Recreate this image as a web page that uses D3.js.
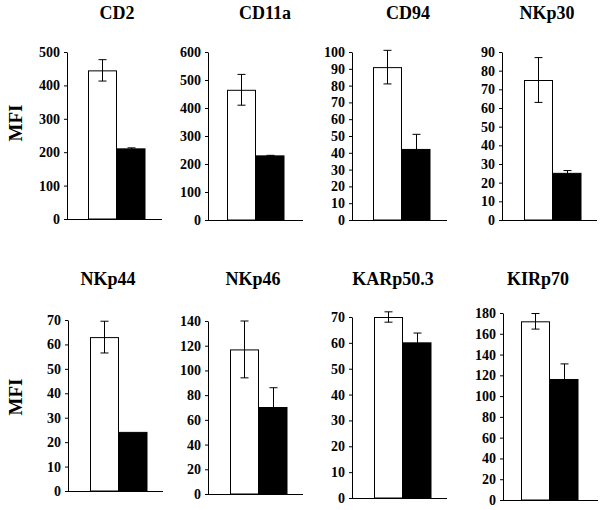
<!DOCTYPE html>
<html><head><meta charset="utf-8">
<script src="https://cdn.jsdelivr.net/npm/d3@7"></script>
<style>body{margin:0;background:#fff}svg{display:block}
text{font-family:"Liberation Serif","Times New Roman",Times,serif;font-weight:bold}</style>
</head><body>
<script>
// ---- data ----
const markers   = ["CD2","CD11a","CD94","NKp30","NKp44","NKp46","KARp50.3","KIRp70"];
const yMaxes    = [500, 600, 100, 90, 70, 140, 70, 180];
const tickSteps = [100, 100, 10, 10, 10, 20, 10, 20];
const whiteVals = [445, 465, 91, 75, 63, 117, 70, 172];
const whiteErr  = [32, 55, 10, 12, 6.5, 23, 2, 7.5];
const blackVals = [210, 229, 42, 25, 24, 70, 60, 116];
const blackErr  = [3, 2, 9, 1.5, 0, 16, 3.8, 15];
const groups    = ["white","black"];
const yLabel    = "MFI";

// ---- layout (pixels) ----
const layout = [
  {ax:67,  top:52,  bot:219, off:21, tx:50, ty:19},
  {ax:208, top:52,  bot:220, off:19, tx:57, ty:19},
  {ax:352, top:52,  bot:220, off:21, tx:56, ty:19},
  {ax:502, top:52,  bot:220, off:22, tx:45, ty:19},
  {ax:68,  top:320, bot:491, off:22, tx:40, ty:285},
  {ax:208, top:321, bot:494, off:22, tx:45, ty:285},
  {ax:352, top:317, bot:498, off:22, tx:41, ty:285},
  {ax:503, top:313, bot:500, off:18, tx:35, ty:285}
];

const svg = d3.select("body").append("svg").attr("width",604).attr("height",510);

markers.forEach((m,i)=>{
  const L = layout[i];
  const g = svg.append("g");
  const y = d3.scaleLinear().domain([0,yMaxes[i]]).range([L.bot,L.top]);
  const x = d3.scaleBand().domain(groups).range([L.ax+L.off, L.ax+L.off+57]).padding(0);
  const ticks = d3.range(0, yMaxes[i]+tickSteps[i]/2, tickSteps[i]);
  const axis = d3.axisLeft(y).tickValues(ticks).tickSize(3).tickSizeOuter(0).tickPadding(4).tickFormat(d3.format("d"));
  const ag = g.append("g").attr("transform",`translate(${L.ax},0)`).call(axis);
  ag.attr("font-family",null).attr("font-size",null);
  ag.select(".domain").attr("stroke","#000");
  ag.selectAll(".tick line").attr("stroke","#000");
  ag.selectAll("text").style("font-size","14px").attr("fill","#000");
  // x baseline
  g.append("line").attr("x1",L.ax).attr("x2",L.ax+95).attr("y1",L.bot+0.5).attr("y2",L.bot+0.5).attr("stroke","#000");
  const vals = [whiteVals[i], blackVals[i]];
  const errs = [whiteErr[i], blackErr[i]];
  g.selectAll("rect.bar").data(groups).join("rect")
    .attr("x",d=>x(d)+ (d==="white"?0.5:0))
    .attr("width",d=>x.bandwidth()-(d==="white"?0.5:0))
    .attr("y",(d,k)=>y(vals[k])+ (k===0?0.5:0))
    .attr("height",(d,k)=>L.bot - y(vals[k]) - (k===0?0.5:0))
    .attr("fill",(d,k)=>k===0?"#fff":"#000")
    .attr("stroke","#000").attr("stroke-width",1);
  groups.forEach((grp,k)=>{
    if(errs[k]<=0) return;
    const cx = Math.round(x(grp)+x.bandwidth()/2)+0.5;
    const hi = y(vals[k]+errs[k]), lo = y(vals[k]-errs[k]);
    g.append("line").attr("x1",cx).attr("x2",cx).attr("y1",hi).attr("y2",lo).attr("stroke","#000");
    g.append("line").attr("x1",cx-4).attr("x2",cx+4).attr("y1",hi).attr("y2",hi).attr("stroke","#000");
    g.append("line").attr("x1",cx-4).attr("x2",cx+4).attr("y1",lo).attr("y2",lo).attr("stroke","#000");
  });
  g.append("text").attr("x",L.ax+L.tx).attr("y",L.ty).attr("text-anchor","middle")
    .style("font-size","18px").text(m);
});

[123, 397].forEach(cy=>{
  svg.append("text").attr("transform",`translate(22,${cy}) rotate(-90)`).attr("text-anchor","middle")
    .style("font-size","19px").text(yLabel);
});
</script>
</body></html>
